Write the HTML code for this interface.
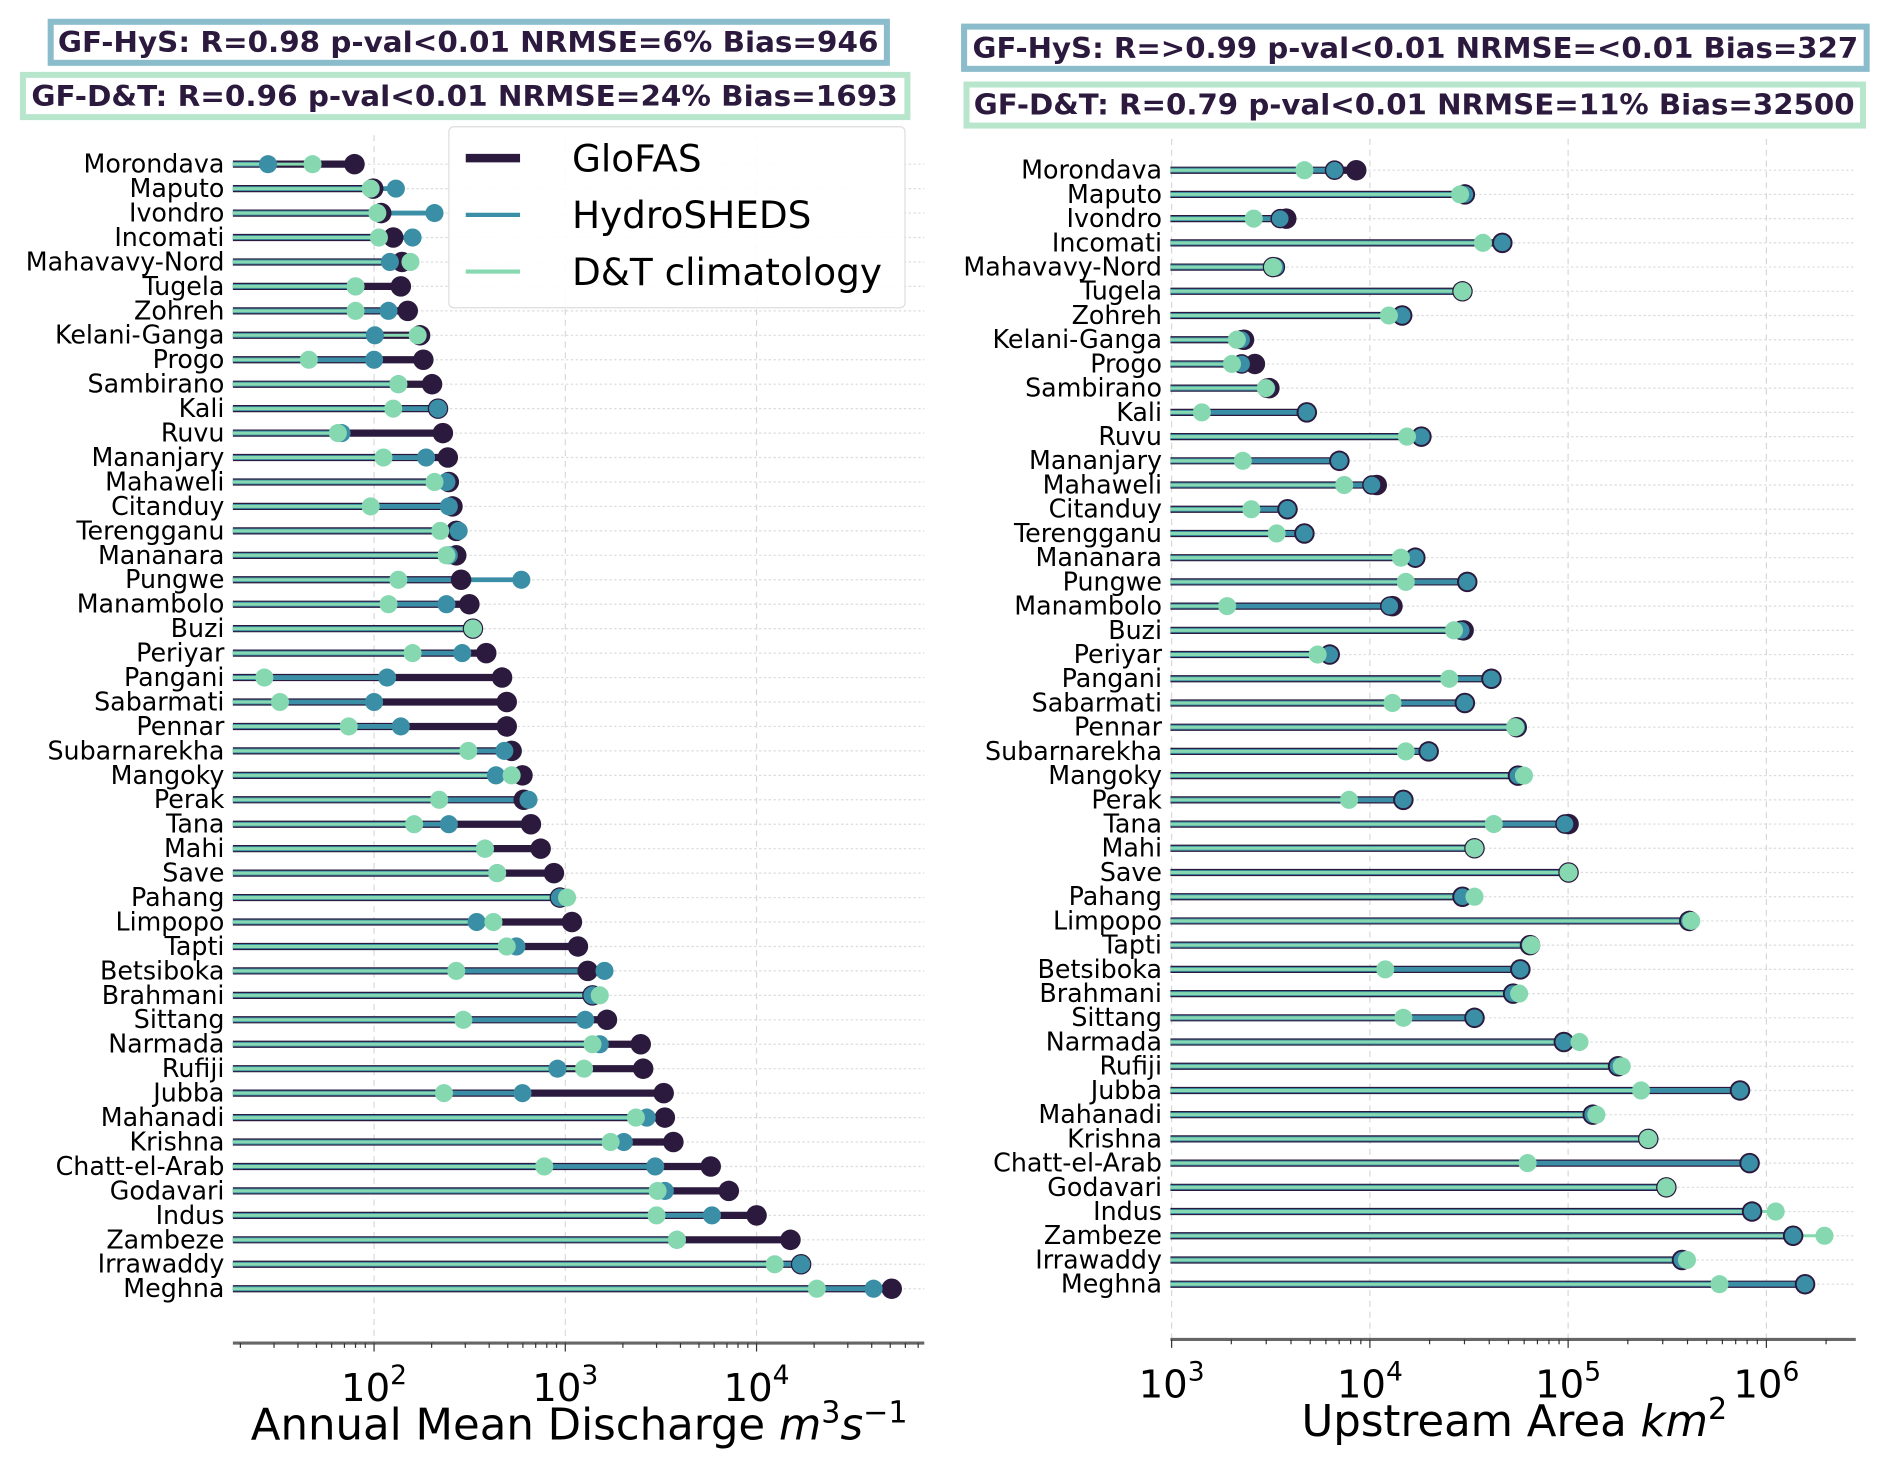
<!DOCTYPE html>
<html><head><meta charset="utf-8">
<style>
html,body{margin:0;padding:0;background:#fff;}
svg{display:block;font-family:"DejaVu Sans","Liberation Sans",sans-serif;}
</style></head>
<body>
<svg id="chart" width="1892" height="1465" viewBox="0 0 1568 1214" xmlns="http://www.w3.org/2000/svg">
<rect width="1568" height="1214" fill="#fff"/>
<g>
<rect x="42" y="18" width="693" height="34" fill="#fff" stroke="#8bbccc" stroke-width="5"/>
<text x="388" y="43" text-anchor="middle" font-size="23.5" font-weight="bold" fill="#2b1a3d" textLength="680" lengthAdjust="spacingAndGlyphs">GF-HyS: R=0.98 p-val&lt;0.01 NRMSE=6% Bias=946</text>
</g>
<g>
<rect x="19" y="62" width="733" height="35" fill="#fff" stroke="#b8e6cc" stroke-width="5"/>
<text x="385" y="88" text-anchor="middle" font-size="23.5" font-weight="bold" fill="#2b1a3d" textLength="718" lengthAdjust="spacingAndGlyphs">GF-D&amp;T: R=0.96 p-val&lt;0.01 NRMSE=24% Bias=1693</text>
</g>
<g>
<rect x="799" y="22" width="748" height="35" fill="#fff" stroke="#8bbccc" stroke-width="5"/>
<text x="1173" y="48" text-anchor="middle" font-size="23.5" font-weight="bold" fill="#2b1a3d" textLength="734" lengthAdjust="spacingAndGlyphs">GF-HyS: R=&gt;0.99 p-val&lt;0.01 NRMSE=&lt;0.01 Bias=327</text>
</g>
<g>
<rect x="801" y="70" width="743" height="34" fill="#fff" stroke="#b8e6cc" stroke-width="5"/>
<text x="1172" y="95" text-anchor="middle" font-size="23.5" font-weight="bold" fill="#2b1a3d" textLength="730" lengthAdjust="spacingAndGlyphs">GF-D&amp;T: R=0.79 p-val&lt;0.01 NRMSE=11% Bias=32500</text>
</g>
<g id="left"></g>
<g id="right"></g>
<g>
<rect x="372" y="105" width="378" height="150" rx="4" fill="#fff" fill-opacity="0.9" stroke="#ddd" stroke-width="1"/>
<line x1="386" y1="131" x2="431" y2="131" stroke="#2b1a3d" stroke-width="7"/>
<text x="474" y="142" font-size="31" fill="#000">GloFAS</text>
<line x1="386" y1="178" x2="431" y2="178" stroke="#3a8ea5" stroke-width="3.5"/>
<text x="474" y="189" font-size="31" fill="#000">HydroSHEDS</text>
<line x1="386" y1="225" x2="431" y2="225" stroke="#86d8b0" stroke-width="3.5"/>
<text x="474" y="236" font-size="31" fill="#000">D&amp;T climatology</text>
</g>
</svg>
<script>
const rivers = ["Morondava","Maputo","Ivondro","Incomati","Mahavavy-Nord","Tugela","Zohreh","Kelani-Ganga","Progo","Sambirano","Kali","Ruvu","Mananjary","Mahaweli","Citanduy","Terengganu","Mananara","Pungwe","Manambolo","Buzi","Periyar","Pangani","Sabarmati","Pennar","Subarnarekha","Mangoky","Perak","Tana","Mahi","Save","Pahang","Limpopo","Tapti","Betsiboka","Brahmani","Sittang","Narmada","Rufiji","Jubba","Mahanadi","Krishna","Chatt-el-Arab","Godavari","Indus","Zambeze","Irrawaddy","Meghna"];
const qGlofas = [79,99,109,126,140,138,150,174,181,201,216,229,243,246,257,269,269,285,315,329,386,467,494,494,524,597,606,661,743,872,937,1083,1164,1309,1387,1651,2479,2553,3268,3315,3673,5758,7161,10000,15040,17100,50900];
const qHydro = [27.9,130,207,159,121,80,119,101,100,134,216,67.6,187,239,246,277,246,589,239,329,289,117,100,138,480,434,642,246,380,440,937,344,555,1603,1387,1271,1514,910,597,2666,2023,2951,3315,5844,3833,17100,40900];
const qDT = [47.7,96,104,106,155,80,80,169,45.6,134,126,64.7,112,207,96,222,239,134,119,329,159,26.7,32.2,73.7,311,524,219,162,380,440,1021,421,494,269,1514,293,1387,1253,232,2339,1725,776,3038,2999,3833,12440,20660];
const aGlofas = [8534,30130,3786,46550,3245,29310,14550,2318,2630,3112,4806,18190,7015,10830,3840,4674,16950,30980,13000,29700,6270,41020,30130,55050,19790,55840,14750,100500,33700,100500,29310,408300,64200,57400,52800,33700,95100,178600,735900,133100,253600,822700,312900,846700,1364000,375300,1567000];
const aHydro = [6633,30130,3530,46550,3337,29310,14550,2254,2254,3027,4806,18190,7015,10240,3840,4674,16950,30980,12600,28900,6270,41020,30130,55050,19790,55840,14750,96400,33700,100500,29310,408300,64200,57400,52800,33700,95100,178600,735900,133100,253600,822700,312900,846700,1364000,375300,1567000];
const aDT = [4674,28500,2594,37170,3245,29310,12470,2132,2015,2985,1420,15380,2286,7418,2523,3386,14330,15170,1905,26550,5449,25120,13000,54000,15170,59840,7849,42170,33700,100500,33700,418000,65100,11950,56600,14750,114100,186400,233200,138800,253600,62440,312900,1114000,1963000,397400,579700];
const leftTicks = [2,3,4];
const rightTicks = [3,4,5,6];

const NS="http://www.w3.org/2000/svg";
function mk(parent,tag,attrs,text){const e=document.createElementNS(NS,tag);for(const k in attrs)e.setAttribute(k,attrs[k]);if(text!==undefined)e.textContent=text;parent.appendChild(e);return e;}

function panel(gid,cfg){
  const g=document.getElementById(gid);
  const xs=v=>cfg.x0+(Math.log10(v)-cfg.l0)*cfg.dec;
  const ys=i=>cfg.y0+i*cfg.dy;
  for(let p=Math.ceil(cfg.lmin);p<=Math.floor(cfg.lmax);p++){
    const x=cfg.x0+(p-cfg.l0)*cfg.dec;
    const l=mk(g,'line',{x1:x,x2:x,y1:cfg.top,y2:cfg.bottom,stroke:'#d8d8d8','stroke-width':1,'stroke-dasharray':'5,4'});
    
    
  }
  rivers.forEach((r,i)=>{
    const l=mk(g,'line',{x1:cfg.xl,x2:cfg.xr,y1:ys(i),y2:ys(i),stroke:'#dcdcdc','stroke-width':1,'stroke-dasharray':'2,2'});
    
    
  });
  rivers.forEach((r,i)=>{
    const y=ys(i);
    const a=mk(g,'line',{x1:cfg.xl,x2:xs(cfg.g[i]),y1:y,y2:y,stroke:'#2b1a3d','stroke-width':6});
    
    
    const b=mk(g,'line',{x1:cfg.xl,x2:xs(cfg.h[i]),y1:y,y2:y,stroke:'#3a8ea5','stroke-width':4});
    
    
    const c=mk(g,'line',{x1:cfg.xl,x2:xs(cfg.d[i]),y1:y,y2:y,stroke:'#86d8b0','stroke-width':2.5});
    
    
  });
  rivers.forEach((r,i)=>{
    const y=ys(i);
    const m1=mk(g,'circle',{cx:xs(cfg.g[i]),cy:y,r:8.5,fill:'#2b1a3d'});
    
    
    const m2=mk(g,'circle',{cx:xs(cfg.h[i]),cy:y,r:7.5,fill:'#3a8ea5',stroke:cfg.edge,'stroke-width':cfg.edge=='none'?0:1.2});
    
    
    const m3=mk(g,'circle',{cx:xs(cfg.d[i]),cy:y,r:7.5,fill:'#86d8b0'});
    
    
    const t=mk(g,'text',{x:cfg.xl-7,y:y+7,'text-anchor':'end','font-size':21,fill:'#000'},r);
    
    
  });
  const ax=mk(g,'line',{x1:cfg.xl,x2:cfg.xr,y1:cfg.bottom,y2:cfg.bottom,stroke:'#666','stroke-width':2.5});
  
  
  for(let p=Math.floor(cfg.lmin);p<=Math.floor(cfg.lmax);p++){
    for(let k=1;k<10;k++){
      const lv=p+Math.log10(k);
      if(lv<cfg.lmin||lv>cfg.lmax)continue;
      const x=cfg.x0+(lv-cfg.l0)*cfg.dec;
      const tk=mk(g,'line',{x1:x,x2:x,y1:cfg.bottom,y2:cfg.bottom+(k==1?7:4),stroke:'#333','stroke-width':1});
      
      
    }
  }
  cfg.ticks.forEach(p=>{
    const x=cfg.x0+(p-cfg.l0)*cfg.dec;
    const t=mk(g,'text',{x:x,y:cfg.bottom+48,'text-anchor':'middle','font-size':32,fill:'#000'});
    
    
    mk(t,'tspan',{},'10');
    mk(t,'tspan',{'font-size':22,dy:-14},String(p));
  });
  const xl=mk(g,'text',{x:cfg.titleX,y:cfg.bottom+80,'text-anchor':'middle','font-size':36,fill:'#000'});
  
  
  cfg.title(xl);
}

panel('left',{x0:310,l0:2,dec:158.5,xl:193,xr:766,lmin:1.262,lmax:4.877,y0:136,dy:20.26,top:112,bottom:1113,
  g:qGlofas,h:qHydro,d:qDT,ticks:leftTicks,edge:'none',titleX:480,
  title:t=>{mk(t,'tspan',{},'Annual Mean Discharge ');mk(t,'tspan',{'font-style':'italic'},'m');mk(t,'tspan',{'font-size':25,dy:-14},'3');mk(t,'tspan',{'font-style':'italic',dy:14},'s');mk(t,'tspan',{'font-size':25,dy:-14},'−1');}});
panel('right',{x0:971,l0:3,dec:164.3,xl:970,xr:1538,lmin:3,lmax:6.45,y0:141,dy:20.07,top:115,bottom:1110,
  g:aGlofas,h:aHydro,d:aDT,ticks:rightTicks,edge:'#2b1a3d',titleX:1255,
  title:t=>{mk(t,'tspan',{},'Upstream Area ');mk(t,'tspan',{'font-style':'italic'},'km');mk(t,'tspan',{'font-size':25,dy:-14},'2');}});
</script>
</body></html>
